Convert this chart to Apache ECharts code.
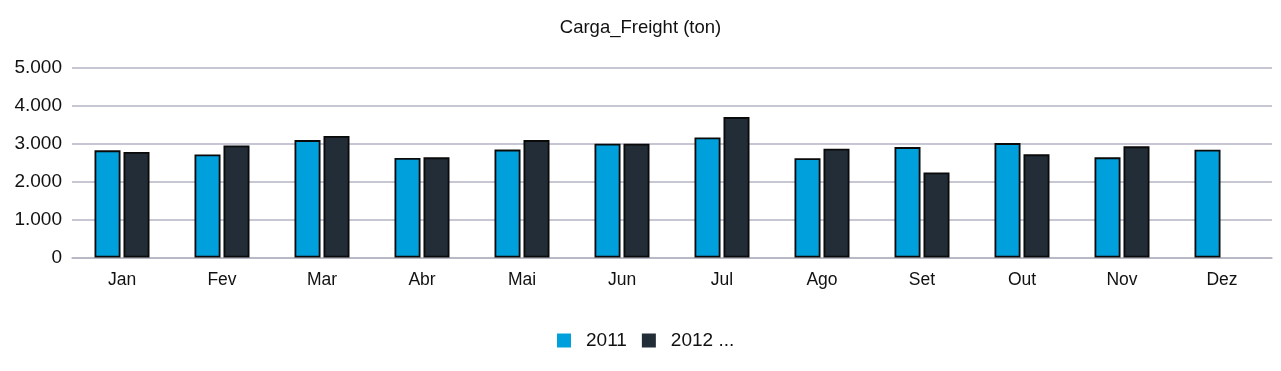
<!DOCTYPE html>
<html>
<head>
<meta charset="utf-8">
<script src="https://cdn.jsdelivr.net/npm/echarts@6/dist/echarts.min.js"></script>
<style>
html,body{margin:0;padding:0;background:#fff;}
#chart{width:1281px;height:371px;}
</style>
</head>
<body>
<div id="chart"></div>
<script>
var categories = ['Jan','Fev','Mar','Abr','Mai','Jun','Jul','Ago','Set','Out','Nov','Dez'];
var series2011 = [2820, 2710, 3090, 2620, 2840, 2995, 3160, 2610, 2905, 3010, 2635, 2835];
var series2012 = [2775, 2950, 3200, 2635, 3090, 2995, 3695, 2865, 2240, 2715, 2925, null];
var seriesNames = ['2011', '2012 ...'];
var yTicks = [0, 1000, 2000, 3000, 4000, 5000];

var chart = echarts.init(document.getElementById('chart'));
var font = 'Liberation Sans, Arial, sans-serif';
chart.setOption({
  animation: false,
  title: {
    text: 'Carga_Freight (ton)',
    left: 'center',
    top: 13,
    textStyle: { fontFamily: font, fontSize: 18.5, fontWeight: 'normal', color: '#111' }
  },
  legend: {
    data: seriesNames,
    left: 552,
    top: 326,
    itemWidth: 14,
    itemHeight: 14,
    itemGap: 15,
    icon: 'rect',
    itemStyle: { borderWidth: 0 },
    textStyle: { fontFamily: font, fontSize: 19, color: '#111', padding: [0, 0, 0, 10] }
  },
  grid: { left: 72, right: 9, top: 67.5, bottom: 113.5, containLabel: false },
  xAxis: {
    type: 'category',
    data: categories,
    axisLine: { show: true, lineStyle: { color: '#b4b4c4', width: 1.5 } },
    axisTick: { show: false },
    axisLabel: { fontFamily: font, fontSize: 17.5, color: '#111', margin: 14 }
  },
  yAxis: {
    type: 'value',
    min: yTicks[0],
    max: yTicks[yTicks.length - 1],
    interval: 1000,
    axisLine: { show: false },
    axisTick: { show: false },
    splitLine: { lineStyle: { color: '#b4b4c4', width: 1.5 } },
    axisLabel: {
      fontFamily: font, fontSize: 19, color: '#111', margin: 10,
      formatter: function (v) { return v.toString().replace(/\B(?=(\d{3})+(?!\d))/g, '.'); }
    }
  },
  series: [
    {
      name: seriesNames[0], type: 'bar', data: series2011,
      barWidth: 26, barGap: '11.5%',
      itemStyle: { color: '#00a0dc', borderColor: '#0a0a0a', borderWidth: 1.8 }
    },
    {
      name: seriesNames[1], type: 'bar', data: series2012,
      barWidth: 26, barGap: '11.5%',
      itemStyle: { color: '#222d37', borderColor: '#0a0a0a', borderWidth: 1.8 }
    }
  ]
});
</script>
</body>
</html>
